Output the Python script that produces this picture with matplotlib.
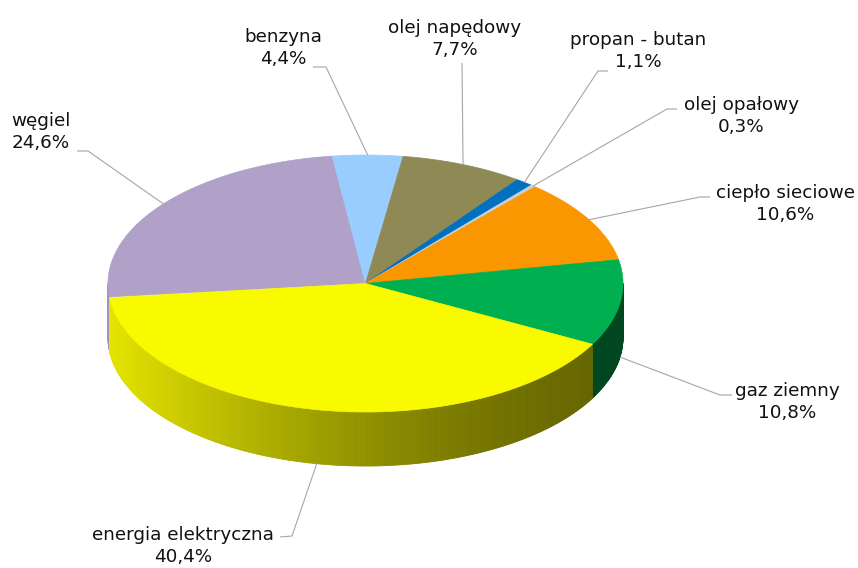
import numpy as np
import matplotlib.pyplot as plt
from matplotlib.collections import PolyCollection
from matplotlib.colors import to_rgb

# udział nośników energii
labels = ['węgiel', 'benzyna', 'olej napędowy', 'propan - butan', 'olej opałowy',
          'ciepło sieciowe', 'gaz ziemny', 'energia elektryczna']
shares = [24.6, 4.4, 7.7, 1.1, 0.3, 10.6, 10.8, 40.4]
colors = ['#b1a0c7', '#99ccff', '#8f8a55', '#0070c0', '#c8d0d8',
          '#fa9600', '#00b050', '#f9f900']

# położenie etykiet (środek tekstu) i punkt początkowy + łamanie linii odniesienia
label_xy = [(41, 132), (283, 48), (455, 39), (638, 51), (741, 116),
            (785, 204), (787, 402), (183, 546)]
leader_from = [(77, 151), (313, 67), (462, 63), (608, 71), (677, 109),
               (710, 197), (732, 395), (280, 537)]
leader_knee = [(88, 151), (326, 67), (462, 63), (598, 71), (667, 109),
               (700, 197), (720, 395), (292, 536)]

# geometria "3D" tortu w pikselach
cx, cy = 365.5, 283.5
rx, ry = 257.5, 128.5
depth = 54
start = 186.0


def pt(a, dz=0.0):
    t = np.radians(a)
    return cx + rx * np.cos(t), cy - ry * np.sin(t) + dz


def shade(a):
    # boki jaśniejsze z lewej, ciemne z prawej
    u = (1 - np.cos(np.radians(a))) / 2
    return 0.40 + 0.52 * u ** 1.5


fig = plt.figure(figsize=(8.58, 5.68), dpi=100)
ax = fig.add_axes([0, 0, 1, 1])
ax.set_xlim(0, 858)
ax.set_ylim(568, 0)
ax.axis('off')

bounds = []
a = start
for s in shares:
    bounds.append((a, a - s * 3.6))
    a -= s * 3.6

# ścianki boczne
side_polys, side_cols = [], []
for (a0, a1), c in zip(bounds, colors):
    base = np.array(to_rgb(c))
    n = max(2, int(abs(a0 - a1) / 0.5) + 1)
    th = np.linspace(a1, a0, n)
    for t0, t1 in zip(th[:-1], th[1:]):
        tm = (t0 + t1) / 2
        if np.sin(np.radians(tm)) > 0:
            continue
        side_polys.append([pt(t0), pt(t1), pt(t1, depth), pt(t0, depth)])
        side_cols.append(np.clip(base * shade(tm), 0, 1))
ax.add_collection(PolyCollection(side_polys, facecolors=side_cols,
                                 edgecolors=side_cols, linewidths=0.6))

# górne powierzchnie wycinków
for (a0, a1), c in zip(bounds, colors):
    n = max(3, int(abs(a0 - a1) / 0.5) + 1)
    th = np.linspace(a0, a1, n)
    xs, ys = pt(th)
    verts = [(cx, cy)] + list(zip(xs, ys))
    ax.add_patch(plt.Polygon(verts, closed=True, facecolor=c, edgecolor=c,
                             linewidth=0.5))

# etykiety z liniami odniesienia
for i, (lab, s) in enumerate(zip(labels, shares)):
    a0, a1 = bounds[i]
    mid = (a0 + a1) / 2
    if np.sin(np.radians(mid)) > 0:
        ax_, ay_ = pt(mid)
    else:
        ax_, ay_ = pt(mid, depth)
    x0, y0 = leader_from[i]
    xk, yk = leader_knee[i]
    ax.plot([x0, xk, ax_], [y0, yk, ay_], color='#a6a6a6', lw=0.8,
            solid_capstyle='butt')
    txt = lab + '\n' + f'{s:.1f}'.replace('.', ',') + '%'
    tx, ty = label_xy[i]
    ax.text(tx, ty, txt, ha='center', va='center', fontsize=13.2,
            color='#111111', linespacing=1.25, family='DejaVu Sans')

fig.savefig('out.png', dpi=100)
